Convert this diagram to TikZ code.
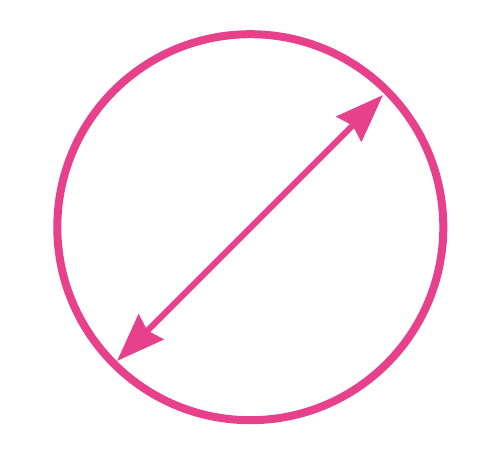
\documentclass[tikz,border=0pt]{standalone}
\usepackage{tikz}
\usetikzlibrary{arrows.meta}
\definecolor{pinkline}{RGB}{232,65,139}
\tikzset{
	rim/.style={draw=pinkline, line width=8pt},
	diameter/.style={draw=pinkline, line width=6pt,
		{Stealth[length=48pt,width=35pt,inset=5pt]}-{Stealth[length=48pt,width=35pt,inset=5pt]}}
}

\begin{document}
\begin{tikzpicture}[x=1pt, y=-1pt]
    \useasboundingbox (0,0) rectangle (502,452);
    \node[circle, minimum size=386pt, rim] (Disc) at (250.3,227.2) {};
    \coordinate (EndLow) at (117,361);
    \coordinate (EndHigh) at (383,95);
    \draw[diameter] (EndLow) -- (EndHigh);
\end{tikzpicture}
\end{document}
